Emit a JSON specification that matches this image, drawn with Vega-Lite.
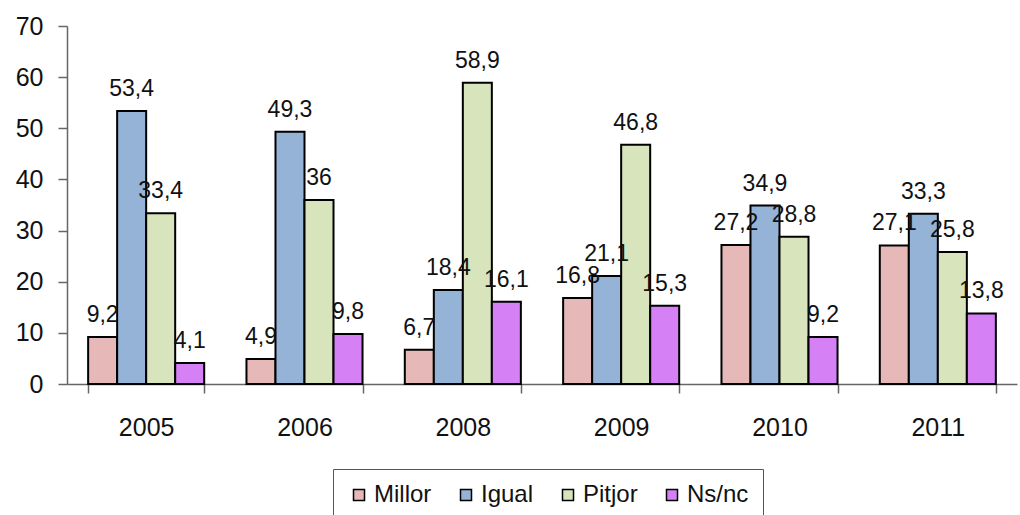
{
  "$schema": "https://vega.github.io/schema/vega-lite/v6.json",
  "autosize": {"type": "none"},
  "padding": {"left": 67, "top": 26, "right": 3, "bottom": 131},
  "width": 950,
  "height": 358,
  "background": "white",
  "config": {
    "locale": {"number": {"decimal": ",", "thousands": ".", "grouping": [3], "currency": ["", "€"]}},
    "view": {"stroke": null},
    "font": "Liberation Sans"
  },
  "data": {
    "values": [
      {"year": "2005", "cat": "Millor", "v": 9.2},
      {"year": "2005", "cat": "Igual", "v": 53.4},
      {"year": "2005", "cat": "Pitjor", "v": 33.4},
      {"year": "2005", "cat": "Ns/nc", "v": 4.1},
      {"year": "2006", "cat": "Millor", "v": 4.9},
      {"year": "2006", "cat": "Igual", "v": 49.3},
      {"year": "2006", "cat": "Pitjor", "v": 36},
      {"year": "2006", "cat": "Ns/nc", "v": 9.8},
      {"year": "2008", "cat": "Millor", "v": 6.7},
      {"year": "2008", "cat": "Igual", "v": 18.4},
      {"year": "2008", "cat": "Pitjor", "v": 58.9},
      {"year": "2008", "cat": "Ns/nc", "v": 16.1},
      {"year": "2009", "cat": "Millor", "v": 16.8},
      {"year": "2009", "cat": "Igual", "v": 21.1},
      {"year": "2009", "cat": "Pitjor", "v": 46.8},
      {"year": "2009", "cat": "Ns/nc", "v": 15.3},
      {"year": "2010", "cat": "Millor", "v": 27.2},
      {"year": "2010", "cat": "Igual", "v": 34.9},
      {"year": "2010", "cat": "Pitjor", "v": 28.8},
      {"year": "2010", "cat": "Ns/nc", "v": 9.2},
      {"year": "2011", "cat": "Millor", "v": 27.1},
      {"year": "2011", "cat": "Igual", "v": 33.3},
      {"year": "2011", "cat": "Pitjor", "v": 25.8},
      {"year": "2011", "cat": "Ns/nc", "v": 13.8}
    ]
  },
  "encoding": {
    "x": {
      "field": "year", "type": "nominal", "sort": null,
      "scale": {"paddingInner": 0.267, "paddingOuter": 0.1335},
      "axis": {
        "title": null, "labelAngle": 0, "labelFontSize": 25, "labelColor": "#111",
        "labelPadding": 22, "tickBand": "extent", "tickSize": 9,
        "domainColor": "#666", "tickColor": "#666", "domainWidth": 1.5, "tickWidth": 1.5
      }
    },
    "xOffset": {"field": "cat", "type": "nominal", "sort": ["Millor", "Igual", "Pitjor", "Ns/nc"]},
    "y": {
      "field": "v", "type": "quantitative",
      "scale": {"domain": [0, 70]},
      "axis": {
        "title": null, "values": [0, 10, 20, 30, 40, 50, 60, 70], "grid": false,
        "labelFontSize": 25, "labelColor": "#111", "labelPadding": 15, "tickSize": 9,
        "domainColor": "#666", "tickColor": "#666", "domainWidth": 1.5, "tickWidth": 1.5
      }
    }
  },
  "layer": [
    {
      "mark": {"type": "bar", "stroke": "black", "strokeWidth": 2},
      "encoding": {
        "color": {
          "field": "cat", "type": "nominal",
          "scale": {"domain": ["Millor", "Igual", "Pitjor", "Ns/nc"], "range": ["#E6B8B7", "#95B3D7", "#D7E4BC", "#D580F5"]},
          "legend": {
            "title": null, "orient": "none", "direction": "horizontal",
            "legendX": 266, "legendY": 443,
            "labelFontSize": 24, "labelColor": "#111", "symbolType": "square", "symbolSize": 121,
            "symbolStrokeColor": "black", "symbolStrokeWidth": 1.5,
            "strokeColor": "#555", "padding": 14, "columnPadding": 22, "labelOffset": 3
          }
        }
      }
    },
    {
      "mark": {"type": "text", "baseline": "alphabetic", "dy": -15, "fontSize": 23, "color": "#111"},
      "encoding": {
        "text": {"field": "v", "type": "quantitative", "format": ".1~f"}
      }
    }
  ]
}
